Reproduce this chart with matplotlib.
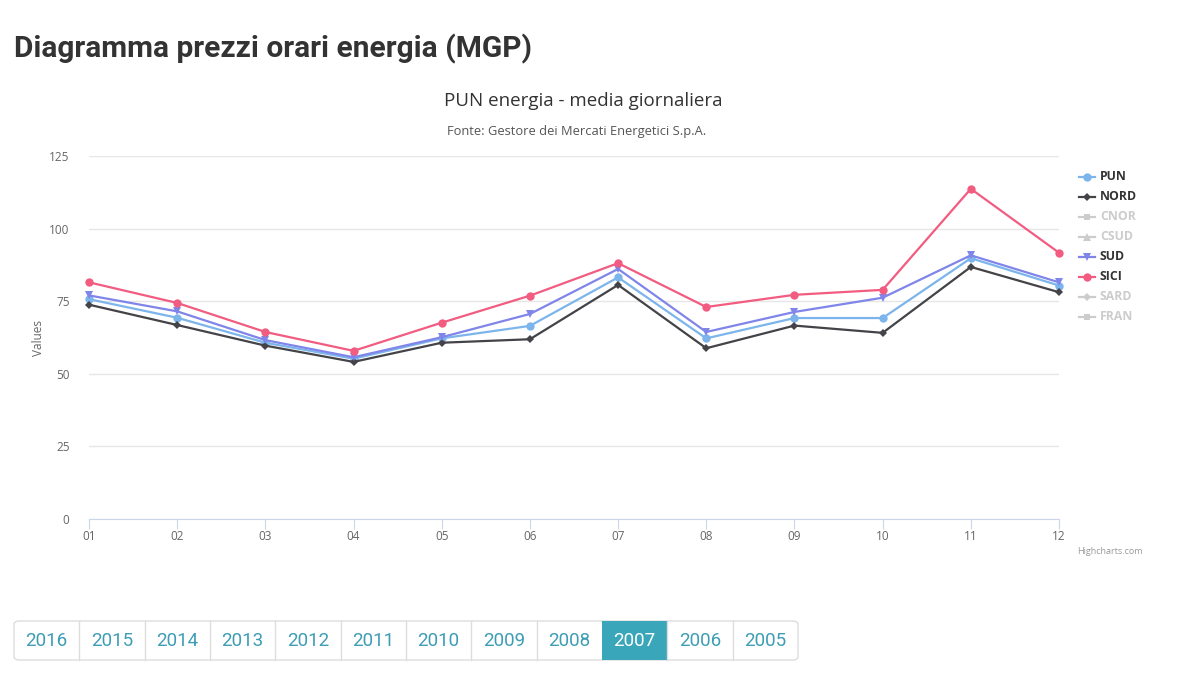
import numpy as np
import matplotlib
matplotlib.use('Agg')
import matplotlib.pyplot as plt
from matplotlib.lines import Line2D
from matplotlib.patches import Rectangle, FancyBboxPatch

# dati (prezzi medi mensili 2007, €/MWh)
mesi = ['01', '02', '03', '04', '05', '06', '07', '08', '09', '10', '11', '12']
PUN  = [75.7, 69.3, 60.7, 55.2, 62.2, 66.5, 83.2, 62.2, 69.2, 69.2, 89.8, 80.4]
NORD = [73.8, 66.8, 59.7, 54.1, 60.7, 61.9, 80.6, 58.8, 66.6, 64.1, 86.8, 78.1]
SUD  = [77.0, 71.5, 61.6, 55.7, 62.6, 70.6, 86.1, 64.4, 71.3, 76.2, 90.8, 81.5]
SICI = [81.5, 74.4, 64.4, 57.9, 67.6, 76.9, 88.1, 73.0, 77.2, 78.9, 113.7, 91.7]

serie = ['PUN', 'NORD', 'CNOR', 'CSUD', 'SUD', 'SICI', 'SARD', 'FRAN']
visibili = {'PUN': PUN, 'NORD': NORD, 'SUD': SUD, 'SICI': SICI}
colori = {'PUN': '#7cb5ec', 'NORD': '#434348', 'CNOR': '#90ed7d', 'CSUD': '#f7a35c',
          'SUD': '#8085e9', 'SICI': '#f15c80', 'SARD': '#e4d354', 'FRAN': '#2b908f'}
marker = {'PUN': 'o', 'NORD': 'D', 'CNOR': 's', 'CSUD': '^',
          'SUD': 'v', 'SICI': 'o', 'SARD': 'D', 'FRAN': 's'}
msize = {'o': 6, 'D': 4.5, 's': 5, '^': 5.5, 'v': 5.5}

anni = ['2016', '2015', '2014', '2013', '2012', '2011', '2010', '2009', '2008', '2007', '2006', '2005']
anno_attivo = '2007'

W, H = 1183, 683
fig = plt.figure(figsize=(W / 100, H / 100), dpi=100)

def fx(px):
    return px / W

def fy(py):
    return 1 - py / H

FONT = ['Open Sans', 'DejaVu Sans']

# titolo pagina
fig.text(fx(14), fy(49), 'Diagramma prezzi orari energia (MGP)', family='Roboto',
         weight='bold', fontsize=21.5, color='#333333', va='center', ha='left')

fig.text(fx(583), fy(101), 'PUN energia - media giornaliera', family=FONT,
         fontsize=13.5, color='#333333', ha='center', va='center')
fig.text(fx(577), fy(131), 'Fonte: Gestore dei Mercati Energetici S.p.A.', family=FONT,
         fontsize=9.3, color='#555555', ha='center', va='center')

ax = fig.add_axes([fx(89), fy(519), fx(1059) - fx(89), fy(156) - fy(519)])
x = np.arange(len(mesi))
for nome in serie:
    if nome in visibili:
        m = marker[nome]
        ax.plot(x, visibili[nome], color=colori[nome], lw=1.6, marker=m,
                markersize=msize[m], markeredgewidth=0, zorder=3, clip_on=False)

ax.set_xlim(0, len(mesi) - 1)
ax.set_ylim(0, 125)
ax.set_yticks([0, 25, 50, 75, 100, 125])
ax.set_xticks(x)
ax.set_xticklabels(mesi)
ax.grid(axis='y', color='#e6e6e6', lw=1)
ax.set_axisbelow(True)
for s in ['top', 'right', 'left']:
    ax.spines[s].set_visible(False)
ax.spines['bottom'].set_color('#ccd6eb')
ax.tick_params(axis='y', length=0, pad=14, labelsize=8.5, labelcolor='#666666')
ax.tick_params(axis='x', length=7, color='#ccd6eb', pad=1, labelsize=8.5, labelcolor='#666666')
for lab in ax.get_xticklabels() + ax.get_yticklabels():
    lab.set_family(FONT)
ax.set_ylabel('Values', family=FONT, fontsize=8.5, color='#666666', labelpad=3)

# legenda
for i, nome in enumerate(serie):
    yy = fy(177 + 20 * i)
    attivo = nome in visibili
    c = colori[nome] if attivo else '#cccccc'
    m = marker[nome]
    fig.add_artist(Line2D([fx(1079), fx(1095)], [yy, yy], color=c, lw=1.6))
    fig.add_artist(Line2D([fx(1087)], [yy], color=c, marker=m, markersize=msize[m],
                          markeredgewidth=0))
    fig.text(fx(1100), yy, nome, family=FONT, fontsize=8.8, weight='bold',
             color='#333333' if attivo else '#cccccc', va='center', ha='left')

fig.text(fx(1143), fy(552), 'Highcharts.com', family=FONT, fontsize=6.5,
         color='#999999', ha='right', va='center')

# pulsanti anni
x0, x1, y0, y1 = 14, 798, 621, 660
bw = (x1 - x0) / len(anni)
fig.add_artist(FancyBboxPatch((fx(x0), fy(y1)), fx(x1 - x0), fy(y0) - fy(y1),
                              boxstyle='round,pad=0,rounding_size=0.005',
                              transform=fig.transFigure, fc='white', ec='#dddddd', lw=1))
for i, a in enumerate(anni):
    bx = x0 + i * bw
    if a == anno_attivo:
        fig.add_artist(Rectangle((fx(bx), fy(y1)), fx(bw), fy(y0) - fy(y1),
                                 transform=fig.transFigure, fc='#3aa6b9', ec='none'))
        col = 'white'
    else:
        col = '#3d9db5'
        if i > 0:
            fig.add_artist(Line2D([fx(bx), fx(bx)], [fy(y1), fy(y0)], color='#dddddd', lw=1))
    fig.text(fx(bx + bw / 2), fy(641), a, family='Roboto', fontsize=13.5, color=col,
             ha='center', va='center')

fig.savefig('out.png', dpi=100)
